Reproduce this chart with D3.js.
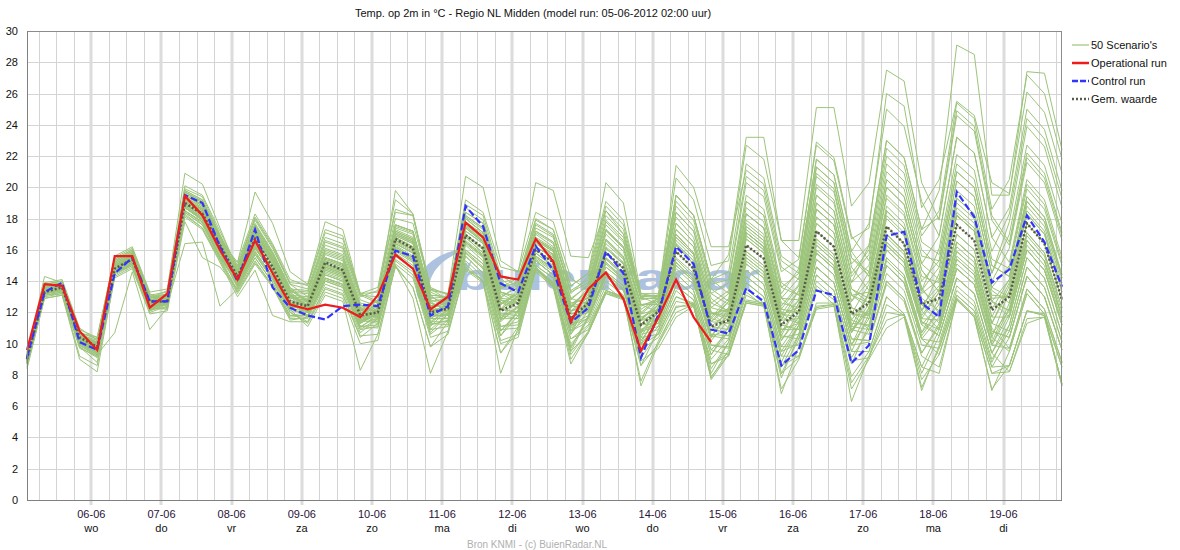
<!DOCTYPE html>
<html><head><meta charset="utf-8">
<script src="https://cdn.jsdelivr.net/npm/d3@7/dist/d3.min.js"></script>
<style>body{margin:0;background:#fff;} svg{display:block;font-family:"Liberation Sans",Arial,sans-serif;}</style>
</head><body><svg id="c" width="1180" height="550"></svg>
<script>
const yTicks=[0,2,4,6,8,10,12,14,16,18,20,22,24,26,28,30];
const dayLabels=["06-06","07-06","08-06","09-06","10-06","11-06","12-06","13-06","14-06","15-06","16-06","17-06","18-06","19-06"];
const dayNames=["wo","do","vr","za","zo","ma","di","wo","do","vr","za","zo","ma","di"];
const legendLabels=["50 Scenario's","Operational run","Control run","Gem. waarde"];
const titleText="Temp. op 2m in °C - Regio NL Midden (model run: 05-06-2012 02:00 uur)";
const footerText="Bron KNMI - (c) BuienRadar.NL";

const operational=[9.6,13.8,13.7,10.8,9.6,15.6,15.6,12.3,13.2,19.45,18.2,16.0,14.1,16.6,14.5,12.5,12.2,12.5,12.3,11.7,13.1,15.7,14.8,12.2,13.0,17.75,16.8,14.3,14.1,16.7,15.25,11.4,13.5,14.55,12.85,9.55,11.7,14.1,11.7,10.1];
const control=[9.1,13.3,13.9,10.1,9.6,14.5,15.5,12.7,12.7,19.5,19.0,16.2,14.0,17.3,13.6,12.3,11.8,11.55,12.4,12.5,12.4,15.95,15.6,11.8,12.4,18.8,17.5,13.85,13.3,16.25,14.7,11.35,12.3,15.9,14.5,9.1,11.9,16.2,15.1,10.9,10.65,13.55,12.7,8.6,9.6,13.4,13.1,8.75,9.9,16.9,17.15,12.6,11.7,19.7,18.1,13.9,14.75,18.2,16.5,13.65];
const gemiddelde=[9.0,13.3,13.6,10.4,9.8,14.8,15.4,12.7,12.7,19.0,18.3,16.3,14.3,16.7,14.9,12.7,12.4,15.2,14.7,11.8,12.0,16.7,16.1,12.0,12.25,16.95,16.1,12.1,12.6,16.0,15.2,11.6,12.6,15.8,14.85,11.2,12.05,15.9,14.8,11.1,11.5,16.3,15.45,11.2,12.05,17.2,16.2,11.9,12.6,17.5,16.4,12.5,12.9,17.6,16.6,12.15,13.0,17.7,16.4,12.8];

const scenarios=[
[9.1,13.5,13.7,10.5,10.0,15.1,15.7,12.8,13.0,19.5,18.9,16.6,14.7,17.5,15.7,13.4,12.8,15.7,15.3,12.3,12.1,16.8,16.2,12.2,12.1,16.8,15.8,11.9,12.0,15.3,14.4,10.8,11.7,14.5,13.5,10.0,11.1,14.1,13.1,9.6,10.8,15.1,14.2,10.2,11.7,16.7,15.7,11.5,13.1,18.2,17.1,13.2,14.1,19.3,18.3,13.6,15.0,20.2,18.9,15.2],
[8.9,13.3,13.5,10.1,9.4,14.6,15.2,12.3,12.7,18.9,18.2,16.0,14.3,16.9,15.2,13.0,12.9,15.9,15.5,12.4,12.7,17.6,17.2,13.1,13.0,18.4,17.7,13.9,13.4,17.0,16.2,12.6,12.9,16.4,15.4,11.7,12.2,16.3,15.1,11.4,12.3,17.7,16.8,12.4,13.8,20.2,19.2,14.5,16.0,22.5,21.4,16.9,18.5,25.4,24.4,18.6,20.5,27.2,26.0,21.8],
[9.0,13.4,13.6,10.3,9.8,15.0,15.6,12.7,12.6,18.8,18.1,15.9,13.8,16.1,14.5,12.3,11.7,14.0,13.6,10.9,11.1,15.3,14.4,10.6,11.5,15.8,14.8,10.8,12.1,15.4,14.6,11.0,12.5,15.8,14.8,11.2,12.5,16.8,15.7,11.9,11.9,16.9,16.0,11.7,11.3,16.0,15.0,10.9,10.6,14.5,13.4,9.9,9.7,13.1,12.1,8.5,10.4,14.3,13.0,9.6],
[9.2,13.6,13.8,10.6,10.2,15.4,16.0,13.1,13.3,19.9,19.4,17.0,14.6,17.3,15.5,13.3,12.4,15.1,14.7,11.8,11.7,16.2,15.5,11.6,11.6,16.0,15.1,11.1,11.4,14.6,13.6,10.0,11.1,13.4,12.9,9.1,10.7,13.4,12.4,9.0,10.3,14.3,13.4,9.5,11.2,15.8,14.8,10.7,12.3,17.0,15.9,12.1,13.5,18.4,17.4,12.9,13.0,17.7,16.4,12.8],
[8.7,13.1,13.3,9.9,9.2,14.5,15.0,12.1,12.5,18.5,17.8,15.6,13.9,16.2,14.5,12.4,12.3,14.9,14.5,11.6,12.2,16.9,16.4,12.3,12.6,17.7,16.9,13.0,13.6,17.2,16.5,12.9,13.7,17.8,16.6,12.9,12.9,17.7,16.5,12.6,12.1,17.3,16.4,12.0,12.0,17.2,16.2,11.9,11.8,16.3,15.2,11.4,10.9,14.8,13.8,9.9,9.7,13.5,12.2,8.8],
[9.1,13.5,13.7,10.4,9.6,14.8,15.4,12.5,13.0,19.4,18.7,16.5,14.9,17.9,16.1,13.8,13.5,16.8,16.4,13.2,13.3,18.4,18.2,13.4,13.2,18.7,17.9,14.2,13.2,16.7,16.0,12.4,12.3,15.5,14.5,10.9,11.3,14.5,13.4,9.9,9.7,13.3,12.4,8.6,9.2,12.6,12.6,7.9,9.5,13.0,11.9,8.5,10.9,14.8,13.8,9.9,11.9,16.3,15.0,11.4],
[8.9,13.3,13.5,10.2,9.9,15.1,15.7,12.8,12.8,19.1,18.4,16.2,14.0,16.3,14.6,12.5,12.6,15.4,15.0,12.1,12.4,17.2,16.7,12.7,12.0,16.6,15.7,11.8,11.6,14.8,13.9,10.3,11.2,13.7,12.8,9.4,11.6,15.0,14.0,10.4,12.0,17.1,16.2,11.9,13.4,19.5,18.5,13.9,15.0,21.0,19.9,15.6,15.3,21.0,20.0,15.0,14.3,19.4,18.1,14.4],
[9.3,13.7,13.9,10.7,10.0,15.2,15.8,12.9,13.4,20.1,19.5,17.2,14.8,17.7,15.9,13.6,12.7,15.5,15.1,12.2,11.6,16.1,15.4,11.4,11.4,15.6,14.5,10.5,11.8,15.0,14.2,10.6,12.7,16.1,15.1,11.5,12.7,17.3,16.2,12.3,13.2,19.1,18.2,13.6,14.5,21.3,20.3,15.5,14.3,20.0,18.9,14.7,13.3,18.2,17.2,12.7,11.7,16.0,14.7,11.2],
[8.7,13.1,13.2,9.8,8.8,14.5,15.1,12.2,12.3,18.3,17.4,15.4,13.3,15.2,13.7,11.6,11.6,13.8,13.4,10.7,11.6,16.0,15.3,11.3,12.2,17.0,16.1,12.2,13.1,16.6,15.9,12.3,13.3,17.2,16.1,12.4,12.9,18.4,17.2,13.2,13.9,20.3,19.4,14.6,15.4,22.7,21.7,16.7,17.4,26.0,25.2,18.7,20.5,25.5,24.6,20.3,19.6,26.1,24.8,20.9],
[9.1,13.5,13.7,10.5,10.1,15.3,15.9,13.0,12.9,19.3,18.6,16.4,14.1,16.5,14.8,12.6,11.8,14.2,13.8,11.1,11.0,15.1,14.2,10.4,10.8,14.7,13.9,9.4,11.1,14.8,13.8,9.7,11.8,14.6,13.7,10.2,11.7,15.4,14.3,10.6,10.5,14.7,13.8,9.8,9.9,13.7,12.8,8.9,9.1,12.0,11.8,7.7,9.3,12.9,11.8,8.1,8.6,12.1,11.8,7.4],
[8.8,13.2,13.4,10.0,9.7,14.9,15.5,12.6,13.1,19.6,19.0,16.7,14.4,17.0,15.3,13.0,12.1,14.7,14.3,11.4,12.3,17.0,16.5,12.4,12.8,18.1,17.3,13.5,14.0,17.7,17.0,13.4,14.1,18.5,17.3,13.0,13.1,18.1,16.8,12.9,12.0,17.1,16.2,11.9,11.4,16.3,15.3,11.1,10.9,15.0,13.9,10.3,10.1,13.7,12.7,9.0,10.8,14.9,13.6,10.1],
[9.4,13.8,14.0,10.9,10.4,15.5,16.1,13.2,12.6,18.7,17.9,15.8,13.6,15.7,14.1,12.0,11.4,13.5,13.1,10.4,11.3,15.6,14.8,10.9,11.9,16.5,15.6,11.6,12.8,16.2,15.5,11.9,12.2,15.4,14.4,10.8,11.1,14.1,13.1,9.6,9.3,12.7,12.5,8.1,9.1,12.2,12.4,7.1,9.0,11.0,11.7,7.0,9.9,13.4,12.4,8.8,11.2,15.5,14.2,10.6],
[9.0,13.4,13.6,10.2,9.6,14.8,15.4,12.5,12.9,19.2,18.6,16.3,14.6,17.3,15.5,13.3,13.2,16.3,15.9,12.8,12.4,17.1,16.6,12.6,12.1,16.8,15.8,11.9,11.8,15.0,14.2,10.6,12.1,15.2,14.2,10.7,12.3,16.4,15.3,11.6,12.7,18.3,17.4,12.9,12.8,18.6,17.6,13.1,12.6,17.5,16.4,12.5,11.7,15.9,14.9,10.8,10.4,14.3,13.0,9.6],
[9.2,13.6,13.8,10.5,9.7,14.9,15.5,12.6,12.4,18.4,17.6,15.5,13.4,15.3,13.7,11.7,11.8,14.1,13.7,11.0,11.9,16.4,15.8,11.8,12.6,17.6,16.8,12.9,13.8,17.4,16.8,13.2,14.3,18.8,17.6,13.0,13.1,20.6,19.2,15.0,15.3,22.7,21.8,16.6,15.5,22.9,21.9,16.9,15.3,21.5,20.4,16.0,14.9,20.4,19.4,14.5,17.0,22.7,21.4,17.7],
[8.8,13.2,13.4,10.0,9.5,14.7,15.3,12.4,12.6,18.7,18.0,15.9,14.2,16.7,15.0,12.8,12.5,15.3,14.9,12.0,11.7,16.2,15.5,11.6,11.6,15.9,14.9,10.9,11.0,14.9,13.9,9.5,10.7,13.3,12.9,8.6,10.0,12.4,12.4,7.8,9.6,13.1,12.5,8.5,10.6,14.9,13.9,9.9,11.6,16.0,14.9,11.2,12.5,17.0,16.0,11.7,13.9,18.8,17.5,13.9],
[9.5,13.9,14.1,11.0,10.2,15.3,15.9,13.0,13.0,19.5,18.8,16.6,15.2,18.3,16.4,14.1,13.7,17.1,16.7,13.2,12.7,17.6,17.2,13.1,12.2,17.0,16.1,12.2,12.0,15.3,14.4,10.8,13.0,16.6,15.5,11.9,12.8,19.1,17.9,13.8,14.1,20.7,19.8,14.9,14.1,20.7,19.7,14.9,13.4,18.8,17.7,13.6,11.9,16.2,15.2,11.0,9.7,13.5,12.2,8.8],
[8.6,13.0,13.2,9.2,8.6,14.2,14.8,11.9,12.1,17.8,15.5,14.9,13.5,15.5,13.9,11.8,12.0,14.4,14.0,11.3,12.0,16.6,16.0,12.0,12.5,17.5,16.6,12.8,12.6,16.0,15.2,11.6,12.0,14.9,14.0,10.4,10.6,13.0,12.5,8.7,9.2,12.6,12.4,7.1,9.0,12.3,12.5,6.3,9.2,12.5,11.8,8.1,10.5,14.2,13.2,9.4,11.7,16.0,14.7,11.2],
[9.0,13.4,13.6,10.4,10.0,15.2,15.8,12.9,13.2,19.8,19.2,16.9,14.4,17.1,15.4,13.1,12.2,14.8,14.4,11.5,11.3,15.6,14.8,10.9,11.1,15.1,14.0,10.0,10.4,14.7,13.6,8.7,10.7,13.2,12.8,8.6,10.9,13.7,12.8,9.3,11.1,15.7,14.8,10.7,12.6,18.1,17.1,12.7,14.6,20.5,19.4,15.1,16.9,23.2,22.2,16.8,18.7,25.0,23.7,19.8],
[8.9,13.3,13.5,10.3,9.8,15.0,15.6,12.7,13.2,19.7,19.1,16.8,15.0,18.1,16.3,13.9,13.8,17.8,17.3,13.2,13.6,19.2,18.3,13.6,13.1,19.2,18.4,14.9,14.6,20.3,19.8,15.6,15.5,18.5,17.0,13.2,13.0,19.5,18.2,14.1,13.2,19.1,18.2,13.6,13.1,19.0,18.0,13.5,12.9,18.0,16.9,12.9,12.1,16.5,15.5,11.3,10.8,14.9,13.6,10.1],
[9.2,13.6,13.8,10.6,9.9,15.0,15.6,12.7,12.7,19.0,18.2,16.1,13.7,15.9,14.3,12.2,11.1,13.1,12.7,8.3,10.6,15.0,13.6,9.8,11.4,15.6,14.5,10.5,12.2,15.5,14.7,11.1,12.7,16.1,15.1,11.5,12.0,15.9,14.8,11.1,10.9,15.3,14.4,10.4,10.6,14.9,13.9,9.9,10.1,13.8,12.7,9.2,8.5,12.8,11.7,7.1,8.6,12.1,11.9,7.4],
[8.8,13.2,13.4,10.0,9.6,14.8,15.4,12.5,12.8,19.2,18.5,16.3,14.3,16.8,15.1,12.9,12.8,15.8,15.4,12.3,12.8,19.8,18.3,13.3,12.8,18.0,17.1,13.3,12.8,16.2,15.5,11.9,12.1,15.1,14.1,10.6,10.9,13.7,12.8,9.3,10.8,15.1,14.2,10.2,12.0,17.2,16.2,11.9,13.8,19.3,18.2,14.0,15.3,21.0,20.0,15.0,14.3,19.4,18.1,14.4],
[9.0,13.4,13.6,10.0,9.3,14.6,15.2,12.3,12.2,18.1,17.3,15.2,13.0,14.7,11.8,11.4,11.4,13.6,13.2,10.5,10.6,14.9,13.6,9.8,10.6,14.8,14.0,8.1,11.0,14.8,13.7,9.5,11.7,14.5,13.5,10.0,12.2,16.3,15.1,11.4,12.7,18.3,17.4,12.9,14.2,20.9,19.9,15.1,16.3,23.0,21.9,17.3,18.1,24.9,23.9,18.2,16.5,22.2,20.9,17.1],
[8.9,13.3,13.5,10.1,9.4,14.7,15.3,12.4,12.5,16.4,16.5,12.4,13.5,15.5,13.9,11.8,11.8,14.2,13.8,11.1,11.7,16.2,15.5,11.6,12.3,17.2,16.4,12.5,13.2,16.7,16.0,12.4,13.4,17.3,16.2,12.5,12.5,17.0,15.8,12.0,11.5,16.3,15.4,11.2,10.9,15.4,14.4,10.3,10.2,14.0,12.9,9.4,11.3,15.4,14.4,10.4,13.4,18.3,17.0,13.3],
[8.8,13.2,13.4,9.9,9.3,10.7,14.6,10.9,12.3,18.4,17.6,15.5,13.8,16.1,14.5,12.3,12.4,15.1,14.7,11.8,12.6,17.4,17.0,12.9,13.0,18.4,17.7,13.9,14.2,18.0,17.3,13.7,14.5,20.3,19.0,13.2,13.2,21.4,20.0,16.2,16.2,21.1,20.2,15.3,14.5,21.3,20.3,15.5,14.6,20.5,19.4,15.1,14.1,19.3,18.3,13.6,13.0,17.7,16.4,12.8],
[9.1,13.5,13.7,10.5,9.7,14.9,15.5,12.6,12.6,18.8,18.0,15.9,13.6,15.7,14.1,12.0,11.3,13.3,12.9,10.0,10.2,15.0,12.9,8.1,10.8,14.9,14.0,9.4,10.8,14.8,13.7,9.3,10.8,13.4,13.0,7.3,10.0,12.0,12.5,7.7,9.3,12.7,12.5,6.8,9.8,13.5,12.5,8.7,11.2,15.5,14.4,10.7,12.9,17.6,16.6,12.2,14.1,19.1,17.8,14.2],
[9.3,13.7,13.9,10.7,10.3,15.4,16.0,13.1,13.1,19.7,19.0,16.8,14.4,17.1,15.4,13.1,12.4,15.1,14.7,11.8,12.4,17.2,16.7,12.7,12.9,18.2,17.4,13.6,13.9,17.6,16.9,13.3,13.9,18.2,17.0,12.9,12.9,19.5,18.2,14.1,15.7,23.2,23.2,16.6,16.6,25.1,25.1,18.8,20.3,27.5,26.8,20.3,17.9,24.6,23.6,17.9,16.3,21.9,20.6,16.9],
[8.9,13.3,13.5,10.1,9.7,14.9,15.5,12.6,13.0,19.4,18.7,16.5,14.1,16.5,14.8,12.6,12.0,14.4,14.0,11.3,11.9,16.4,15.8,11.8,12.4,17.4,16.5,12.6,13.2,16.7,16.0,12.4,12.7,16.1,15.1,11.5,11.6,15.2,14.1,10.5,11.7,16.7,15.8,11.5,13.4,19.5,18.5,13.9,16.3,23.0,21.9,17.3,19.8,29.1,28.5,19.5,19.5,27.4,27.3,22.4],
[9.1,13.5,13.7,10.4,9.8,15.0,15.6,12.6,12.9,19.2,18.6,16.3,14.4,17.0,15.3,13.0,12.4,15.1,14.7,11.8,11.8,16.3,15.6,11.7,11.9,16.4,15.5,11.5,12.3,15.6,14.8,11.2,12.8,16.2,15.2,11.6,12.5,17.0,15.8,12.0,11.7,16.7,15.8,11.5,11.6,16.5,15.5,11.3,11.2,15.5,14.4,10.7,12.1,16.5,15.5,11.3,13.7,18.5,17.2,13.6],
[8.7,13.1,13.3,9.8,9.1,14.4,15.0,12.1,12.6,18.7,17.9,15.8,14.4,17.1,15.4,13.1,13.0,16.1,15.7,12.6,12.3,17.0,16.5,12.4,11.9,16.5,15.6,11.6,11.6,14.8,13.9,10.3,10.9,13.4,13.0,8.9,9.7,11.7,12.4,7.9,9.3,12.6,12.4,8.1,10.3,14.4,13.4,9.5,11.9,16.5,15.4,11.6,13.3,18.2,17.2,12.7,12.1,16.6,15.3,11.7],
[9.2,13.6,13.8,10.6,10.1,15.3,15.9,13.0,12.7,19.0,18.2,16.1,13.7,15.9,14.3,12.2,12.1,14.7,14.3,11.4,12.1,16.8,16.2,12.2,12.7,17.8,17.0,13.2,12.6,16.0,15.2,11.6,12.0,14.9,14.0,10.4,12.4,16.6,15.5,11.7,12.9,18.7,17.8,13.2,14.8,21.8,20.8,15.9,17.7,25.0,23.9,19.1,16.9,23.2,22.2,16.8,15.2,20.5,19.2,15.5],
[9.0,13.4,13.6,10.3,9.9,15.0,15.6,12.7,13.0,19.5,18.9,16.6,15.2,19.7,17.7,14.6,13.8,17.3,16.9,13.1,13.0,18.0,17.7,13.5,12.8,18.0,17.1,13.3,13.0,16.5,15.7,12.1,12.5,15.8,14.8,11.2,11.6,15.2,14.1,10.5,10.3,14.3,13.4,9.5,10.0,14.0,13.0,9.1,10.9,15.0,13.9,10.3,11.7,15.9,14.9,10.8,10.4,14.3,13.0,9.6],
[9.4,13.8,14.0,10.8,9.9,15.1,15.7,12.8,12.7,18.9,18.2,16.0,14.5,17.2,15.5,13.2,12.3,14.9,14.5,11.6,11.4,15.8,15.0,11.1,12.2,17.0,16.1,12.2,13.5,17.1,16.4,12.8,13.8,17.9,16.8,13.0,12.5,17.0,15.8,12.0,11.0,15.5,14.6,10.5,10.3,14.4,13.4,9.5,9.5,13.0,11.9,8.5,8.1,12.8,11.7,7.0,9.5,13.2,11.9,8.5],
[9.1,13.5,13.7,10.5,9.4,14.6,15.2,12.3,12.8,19.1,18.4,16.2,14.6,17.4,15.6,13.4,13.3,16.5,16.1,13.0,13.4,18.6,18.2,13.5,13.2,20.7,20.0,15.3,14.6,18.4,17.8,14.2,13.4,17.3,16.2,12.5,12.0,15.9,14.8,11.1,10.5,14.7,13.8,9.8,11.4,16.3,15.3,11.1,13.3,18.5,17.4,13.4,14.9,20.4,19.4,14.5,17.8,23.9,22.6,18.7],
[8.8,13.2,13.4,9.9,9.2,14.5,15.1,12.2,12.3,18.2,17.4,15.3,13.2,15.1,13.6,11.5,11.7,14.0,13.6,10.9,11.6,16.1,15.4,11.4,12.2,17.0,16.1,12.2,13.0,16.5,15.7,12.1,13.0,16.7,15.6,12.0,12.9,17.7,16.5,12.6,13.4,19.5,18.6,13.9,13.1,19.0,18.0,13.5,12.6,17.5,16.4,12.5,11.3,15.4,14.4,10.4,9.5,13.2,11.9,8.5],
[9.3,14.3,13.9,10.7,10.4,15.6,16.2,13.3,13.5,20.9,20.2,17.4,14.7,17.6,15.8,13.5,12.6,15.4,15.0,12.1,11.9,16.4,15.8,11.8,11.8,16.3,15.3,11.4,12.4,15.8,14.9,11.3,13.2,17.0,15.9,12.2,12.9,18.4,17.2,13.2,12.5,17.9,17.0,12.6,12.3,17.7,16.7,12.3,11.8,16.3,15.2,11.4,10.5,14.2,13.2,9.4,8.2,11.6,11.7,7.3],
[8.5,12.9,13.1,9.7,9.2,14.5,15.1,12.2,12.6,18.8,18.1,15.9,14.1,16.5,14.8,12.6,12.7,15.5,15.1,12.2,12.7,17.6,17.2,13.1,13.0,18.9,18.2,14.4,13.6,17.2,16.5,12.9,12.5,15.8,14.8,11.2,11.3,14.5,13.4,9.9,9.8,13.5,12.6,8.8,11.2,15.8,14.8,10.7,13.3,18.5,17.4,13.4,16.1,22.1,21.1,15.9,18.3,24.4,23.1,19.3],
[9.1,13.5,13.7,10.5,10.1,15.2,15.8,12.9,13.2,19.8,19.2,16.9,15.0,18.0,16.2,13.8,13.0,16.0,15.6,12.5,12.0,16.6,16.0,12.0,11.6,16.0,15.1,11.1,11.2,14.9,13.8,9.8,11.6,14.3,13.4,9.9,11.6,15.2,14.1,10.5,11.9,16.9,16.0,11.7,12.8,18.6,17.6,13.1,12.3,17.0,15.9,12.1,10.9,14.8,13.8,9.9,12.3,16.9,15.6,12.0],
[8.9,13.3,13.5,10.2,9.7,14.9,15.5,12.6,12.5,18.5,17.8,15.6,14.0,16.3,14.6,12.5,12.5,15.2,14.8,11.9,12.5,17.3,16.8,12.8,12.4,17.4,16.5,12.6,12.3,15.6,14.8,11.2,11.6,14.3,13.4,9.9,10.6,13.0,12.6,8.7,9.4,12.8,12.6,7.8,10.6,14.9,13.9,9.9,12.3,17.0,15.9,12.1,14.5,19.8,18.8,14.0,16.1,21.6,20.3,16.6],
[9.2,13.6,13.8,10.6,9.8,15.0,15.6,12.7,13.0,19.5,18.8,16.6,14.2,16.7,15.0,12.8,11.8,14.2,13.8,11.1,11.2,15.4,14.6,10.7,11.9,16.5,15.6,11.6,13.1,16.6,15.9,12.3,13.6,17.6,16.5,12.8,13.0,19.5,18.2,14.1,14.6,21.5,20.6,15.6,14.8,21.8,20.8,15.9,14.3,20.0,18.9,14.7,13.3,18.2,17.2,12.7,12.1,16.6,15.3,11.7],
[8.9,13.3,13.5,10.1,9.6,14.8,15.4,12.5,12.9,19.3,18.6,16.4,14.7,17.5,15.7,13.4,12.7,15.5,15.1,12.2,11.6,16.0,15.3,11.3,11.2,15.3,14.3,10.2,10.6,14.8,13.8,9.0,10.7,13.2,12.9,7.6,10.2,12.3,12.6,8.1,10.1,13.9,13.0,9.2,9.2,12.4,12.5,7.5,9.2,11.5,11.9,7.2,9.7,13.1,12.1,8.5,8.6,12.1,11.8,7.4],
[9.0,13.4,13.6,10.3,9.7,14.9,15.5,12.6,12.8,19.0,18.3,16.1,14.0,16.4,14.7,12.6,12.0,14.5,14.1,11.3,12.0,16.6,16.0,12.0,12.5,17.6,16.7,12.9,12.8,16.2,15.5,11.9,12.1,15.2,14.2,10.7,11.5,14.8,13.8,10.2,11.5,16.3,15.4,11.2,12.8,18.6,17.6,13.1,13.3,18.5,17.4,13.4,12.5,17.0,16.0,11.7,11.7,16.0,14.7,11.2],
[8.4,12.9,13.1,9.0,8.2,14.3,14.9,12.0,12.4,18.5,17.7,15.6,13.8,16.1,14.5,12.3,12.3,14.9,14.5,11.6,12.2,16.9,16.4,12.3,12.9,18.2,17.4,13.6,14.2,17.9,17.3,13.7,14.5,19.1,17.9,13.1,13.0,18.8,17.5,13.5,12.7,18.3,17.4,12.9,12.0,17.2,16.2,11.9,10.9,15.0,13.9,10.3,9.3,12.9,11.8,8.1,8.2,11.3,11.7,7.3],
[9.0,13.4,13.6,10.4,9.6,14.8,15.4,12.5,12.7,18.9,18.2,16.0,14.3,16.9,15.2,13.0,12.7,15.5,15.1,12.2,12.1,16.8,16.2,12.2,12.1,16.9,16.0,12.1,12.9,16.4,15.6,12.0,13.0,16.6,15.5,11.9,12.2,16.3,15.1,11.4,11.3,15.9,15.0,10.9,11.3,16.0,15.0,10.9,12.1,16.8,15.7,11.8,13.3,18.2,17.2,12.7,14.1,19.1,17.8,14.2],
[8.9,13.3,13.5,10.2,9.7,14.9,15.5,12.6,12.9,19.2,18.6,16.3,14.1,16.5,14.8,12.6,12.2,14.8,14.4,11.5,12.1,16.7,16.1,12.1,12.4,17.4,16.5,12.6,12.6,16.0,15.2,11.6,12.2,15.4,14.4,10.8,12.0,15.9,14.8,11.1,12.0,17.1,16.2,11.9,12.3,17.7,16.7,12.3,11.9,16.5,15.4,11.6,11.5,15.6,14.6,10.6,12.1,16.6,15.3,11.7],
[9.1,13.5,13.7,10.5,9.9,15.0,15.6,12.7,12.8,19.1,18.4,16.2,13.9,16.2,14.6,12.4,12.3,15.0,14.6,11.7,12.3,17.0,16.5,12.4,12.8,18.0,17.1,13.3,13.0,16.5,15.7,12.1,12.3,15.5,14.5,10.9,11.6,15.0,14.0,10.4,11.0,15.5,14.6,10.5,12.6,18.1,17.1,12.7,14.0,19.5,18.4,14.3,13.9,19.0,18.0,13.4,12.6,17.1,15.8,12.3],
[8.9,13.3,13.5,10.2,9.5,14.7,15.3,12.4,12.8,19.2,18.5,16.3,14.4,17.1,15.4,13.1,12.5,15.3,14.9,12.0,11.9,16.5,15.9,11.9,11.9,16.5,15.6,11.6,12.4,15.8,15.0,11.3,12.7,16.1,15.1,11.5,12.5,16.8,15.7,11.9,12.2,17.5,16.6,12.2,12.0,17.2,16.2,11.9,11.6,16.0,14.9,11.2,10.5,14.2,13.2,9.4,11.2,15.5,14.2,10.6],
[9.2,13.6,13.8,10.6,9.8,15.0,15.6,12.7,12.6,18.7,17.9,15.8,13.7,15.8,14.2,12.1,12.0,14.6,14.2,11.4,12.0,16.6,16.0,12.0,12.3,17.2,16.4,12.5,13.3,16.8,16.1,12.5,13.4,17.3,16.2,12.5,12.7,17.3,16.2,12.3,12.0,17.1,16.2,11.9,11.7,16.7,15.7,11.5,11.1,15.3,14.2,10.5,12.1,16.5,15.5,11.3,13.4,18.3,17.0,13.3],
[8.8,13.2,13.5,10.4,10.0,15.1,15.7,12.8,13.2,19.7,19.1,16.8,14.6,17.3,15.5,13.3,12.3,15.0,14.6,11.7,11.5,15.9,15.2,11.2,11.5,15.8,14.8,10.8,12.0,15.3,14.4,10.8,12.5,15.8,14.8,11.2,12.3,16.4,15.3,11.6,11.3,15.9,15.0,10.9,10.9,15.4,14.4,10.3,10.2,14.0,12.9,9.4,11.1,15.1,14.1,10.1,12.6,17.1,15.8,12.3],
[9.1,13.5,13.7,10.4,9.3,14.5,15.1,12.2,12.7,18.9,18.2,16.1,14.7,17.6,15.8,13.5,13.4,16.6,16.2,13.1,12.6,17.5,17.1,13.0,12.5,17.5,16.6,12.8,12.3,15.6,14.8,11.2,11.8,14.6,13.7,10.2,11.8,15.5,14.5,10.8,12.2,17.5,16.6,12.2,13.7,20.0,19.0,14.3,15.7,22.0,20.9,16.5,15.7,21.5,20.5,15.4,14.8,19.9,18.6,15.0],
[8.8,13.2,13.4,10.0,9.4,14.6,15.2,12.3,12.6,18.7,18.0,15.9,14.0,16.4,14.7,12.6,12.4,15.1,14.7,11.8,12.4,17.1,16.6,12.6,12.2,17.0,16.1,12.2,12.0,15.3,14.4,10.8,11.4,14.0,13.1,9.6,10.4,12.7,12.5,8.4,10.1,13.9,13.0,9.2,11.2,15.8,14.8,10.7,12.6,17.5,16.4,12.5,13.7,18.7,17.7,13.1,13.0,17.7,16.4,12.8]
];

const runStart=Date.UTC(2012,5,5,2);
const stepMs=6*3600*1000;
const tAt=i=>new Date(runStart+i*stepMs);

const L=27,R=1062,T=31,B=500;
const svg=d3.select("#c");
const x=d3.scaleUtc().domain([tAt(0),tAt(59)]).range([L,R]);
const y=d3.scaleLinear().domain([0,30]).range([B,T]);

// horizontal grid
svg.append("g").selectAll("line").data(yTicks).join("line")
  .attr("x1",L).attr("x2",R).attr("y1",d=>Math.round(y(d))+0.5).attr("y2",d=>Math.round(y(d))+0.5)
  .attr("stroke","#d4d4d4").attr("stroke-width",1);

// 6-hour vertical grid
const sixH=d3.utcHour.every(6).range(tAt(0),tAt(59));
svg.append("g").selectAll("line").data(sixH.filter(d=>d.getUTCHours()!==0)).join("line")
  .attr("x1",d=>Math.round(x(d))+0.5).attr("x2",d=>Math.round(x(d))+0.5).attr("y1",T).attr("y2",B)
  .attr("stroke","#d4d4d4").attr("stroke-width",1);
// day lines
const days=dayLabels.map((l,k)=>new Date(Date.UTC(2012,5,6+k)));
svg.append("g").selectAll("line").data(days).join("line")
  .attr("x1",d=>Math.round(x(d))).attr("x2",d=>Math.round(x(d))).attr("y1",T).attr("y2",B+5)
  .attr("stroke","#dcdcdc").attr("stroke-width",3);

// watermark
const wm=svg.append("g").attr("opacity",0.9);
wm.append("path").attr("d","M456,250 C430,256 412,276 417,295 C419,302 427,304 432,299 C424,284 434,264 456,254 Z")
  .attr("fill","#a5bcdc");
wm.append("path").attr("d","M438,302 C452,292 458,274 472,260 C464,282 460,296 446,305 Z").attr("fill","#a5bcdc");
wm.append("text").attr("x",455).attr("y",290).attr("font-size",36).attr("font-weight","bold")
  .attr("fill","#a5bcdc").attr("textLength",305).attr("lengthAdjust","spacingAndGlyphs").text("buienradar");

const line=d3.line().x((d,i)=>x(tAt(i))).y(d=>y(d));

svg.append("g").selectAll("path").data(scenarios).join("path")
  .attr("d",line).attr("fill","none").attr("stroke","#9cc47a").attr("stroke-width",1);

svg.append("path").datum(gemiddelde).attr("d",line).attr("fill","none")
  .attr("stroke","#5a5a4a").attr("stroke-width",2.5).attr("stroke-dasharray","2,2");
svg.append("path").datum(control).attr("d",line).attr("fill","none")
  .attr("stroke","#3333ff").attr("stroke-width",2.2).attr("stroke-dasharray","7,3");
svg.append("path").datum(operational).attr("d",line).attr("fill","none")
  .attr("stroke","#ee1c1c").attr("stroke-width",2.2);

// frame
svg.append("rect").attr("x",L+0.5).attr("y",T+0.5).attr("width",R-L-1).attr("height",B-T)
  .attr("fill","none").attr("stroke","#8c8c8c").attr("stroke-width",1);
svg.append("line").attr("x1",L).attr("x2",R).attr("y1",B+0.5).attr("y2",B+0.5).attr("stroke","#808080");
svg.append("line").attr("x1",L+0.5).attr("x2",L+0.5).attr("y1",T).attr("y2",B).attr("stroke","#808080");

// y labels
svg.append("g").selectAll("text").data(yTicks).join("text")
  .attr("x",18).attr("y",d=>y(d)+4).attr("text-anchor","end").attr("font-size",11).attr("fill","#111")
  .text(d=>d);

// x labels
const xl=svg.append("g");
xl.selectAll("text.d").data(days).join("text").attr("class","d")
  .attr("x",d=>x(d)).attr("y",518).attr("text-anchor","middle").attr("font-size",11)
  .attr("fill","#2a1238").text((d,i)=>dayLabels[i]);
xl.selectAll("text.n").data(days).join("text").attr("class","n")
  .attr("x",d=>x(d)).attr("y",532).attr("text-anchor","middle").attr("font-size",11)
  .attr("fill","#111").text((d,i)=>dayNames[i]);

// title
svg.append("text").attr("x",533).attr("y",17).attr("text-anchor","middle").attr("font-size",11)
  .attr("fill","#111").text(titleText);
// footer
svg.append("text").attr("x",537).attr("y",548).attr("text-anchor","middle").attr("font-size",10)
  .attr("fill","#b0b0b0").text(footerText);

// legend
const lg=svg.append("g");
const styles=[{c:"#9cc47a",w:1.2,d:null},{c:"#ee1c1c",w:2.5,d:null},{c:"#3333ff",w:2.5,d:"6,2"},{c:"#5a5a4a",w:2.5,d:"2,2"}];
legendLabels.forEach((lab,i)=>{
  const yy=45+i*18;
  lg.append("line").attr("x1",1072).attr("x2",1089).attr("y1",yy).attr("y2",yy)
    .attr("stroke",styles[i].c).attr("stroke-width",styles[i].w).attr("stroke-dasharray",styles[i].d);
  lg.append("text").attr("x",1091).attr("y",yy+4).attr("font-size",11).attr("fill","#111").text(lab);
});
</script></body></html>
